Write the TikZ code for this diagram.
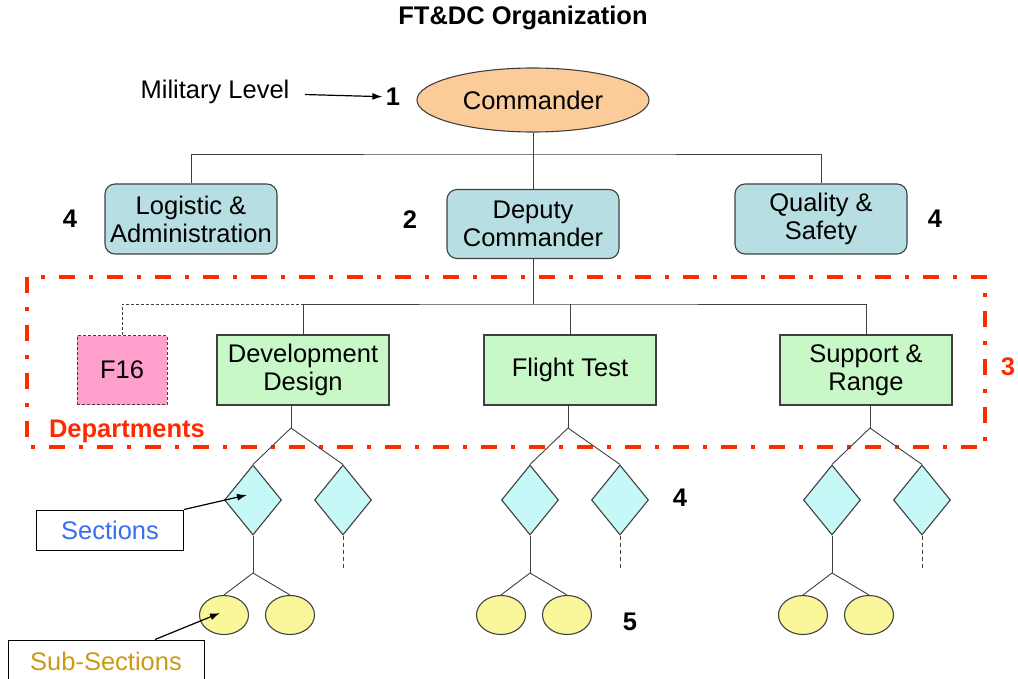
\documentclass[tikz,border=0pt]{standalone}
\usepackage{fontspec}
\setmainfont{Liberation Sans}
\usetikzlibrary{arrows.meta,positioning,shapes.geometric}

\definecolor{cmdorange}{HTML}{FBCB99}
\definecolor{staffblue}{HTML}{B7DEE2}
\definecolor{deptgreen}{HTML}{C8F8C8}
\definecolor{f16pink}{HTML}{FFA0CC}
\definecolor{secfill}{HTML}{C6F8F8}
\definecolor{subfill}{HTML}{FAF79B}
\definecolor{deptred}{HTML}{FF2A00}
\definecolor{secblue}{HTML}{3A6EF0}
\definecolor{subgold}{HTML}{CC9A14}
\definecolor{edgegray}{HTML}{404040}

\tikzset{
  link/.style={draw=edgegray, line width=0.9pt},
  staffbox/.style={draw=edgegray, line width=1.1pt, fill=staffblue, rounded corners=10pt, minimum width=172pt, minimum height=70pt, align=center},
  deptbox/.style={draw=edgegray, line width=1.1pt, fill=deptgreen, minimum width=172pt, minimum height=70pt, align=center},
  secdiamond/.style={draw=edgegray, line width=1.1pt, fill=secfill, diamond, minimum width=57pt, minimum height=70pt, inner sep=0pt},
  subellipse/.style={draw=edgegray, line width=1.1pt, fill=subfill, ellipse, minimum width=49pt, minimum height=39pt, inner sep=0pt},
  callout/.style={draw=black, line width=1pt, fill=white},
  pointer/.style={draw=black, line width=1.2pt, -{Latex[length=10pt,width=7pt]}},
  levelnum/.style={font=\fontsize{25.5}{28}\selectfont\bfseries},
  deptframe/.style={draw=deptred, line width=4.5pt, dash pattern=on 16pt off 14pt on 4pt off 14pt}
}

\begin{document}
\begin{tikzpicture}[x=1pt,y=-1pt,font=\fontsize{25.5}{28}\selectfont]
\useasboundingbox (0,0) rectangle (1018,679);
\node (title) at (523,18) [levelnum] {FT\&DC Organization};
\node (cmd) at (533,100) [draw=edgegray, line width=1.1pt, fill=cmdorange, ellipse, minimum width=232pt, minimum height=64pt, inner sep=0pt] {Commander};
\node (lvl1) [levelnum, left of=cmd, node distance=140pt, yshift=3pt] {1};
\node (mil) [left of=lvl1, node distance=178pt, yshift=5pt] {Military Level};
\draw [pointer, shorten <=12pt] (mil) -- (lvl1);

\node (logi) at (191,219) [staffbox] {Logistic \&\\Administration};
\node (depu) at (533,224) [staffbox, minimum height=69pt] {Deputy\\Commander};
\node (qual) at (821,219) [staffbox] {Quality \&\\Safety};
\node (lvl4a) [levelnum, left of=logi, node distance=121pt] {4};
\node (lvl2) [levelnum, left of=depu, node distance=123pt, yshift=4pt] {2};
\node (lvl4b) [levelnum, right of=qual, node distance=114pt] {4};

\coordinate (cmdfork) at (533,154);
\draw [link] (cmd) -- (cmdfork);
\draw [link] (logi.north) |- (cmdfork) -| (qual.north);
\draw [link] (cmdfork) -- (depu.north);

% departments frame
\draw [deptframe] (27,277) rectangle (985,447);
\node (deps) at (127,431) [levelnum, text=deptred] {Departments};
\node (lvl3) at (1008,367) [levelnum, text=deptred] {3};

\node (f16) at (122,370) [deptbox, fill=f16pink, line width=0.8pt, dash pattern=on 3pt off 2pt, minimum width=90pt, minimum height=69pt] {F16};
\node (dev) at (303,370) [deptbox] {Development\\Design};
\node (flt) at (570,370) [deptbox] {Flight Test};
\node (sup) at (866,370) [deptbox] {Support \&\\Range};

\coordinate (depfork) at (533,304);
\draw [link] (depu) -- (depfork);
\draw [link] (dev.north) |- (depfork) -| (sup.north);
\draw [link] (depfork -| flt.north) -- (flt.north);
\draw [link, dash pattern=on 3pt off 2pt] (f16.north) |- (depfork -| dev.north);

% sections and sub-sections
\foreach \d/\j in {dev/291,flt/568,sup/870}{
  \coordinate (\d-fork) at (\j,428);
  \node (\d-secl) at (\j-38,500) [secdiamond] {};
  \node (\d-secr) at (\j+52,500) [secdiamond] {};
  \coordinate (\d-subfork) at (\j-38,573);
  \node (\d-subl) at (\j-67,615) [subellipse] {};
  \node (\d-subr) at (\j-1,615) [subellipse] {};
  \draw [link] (\d.south -| \d-fork) -- (\d-fork);
  \draw [link] (\d-secl.north) -- (\d-fork) -- (\d-secr.north);
  \draw [link] (\d-secl.south) -- (\d-subfork);
  \draw [link] (\d-subl.north) -- (\d-subfork) -- (\d-subr.north);
  \draw [link, dash pattern=on 4pt off 3pt] (\d-secr.south) -- ++(0,32);
}
\node (lvl4c) at (680,498) [levelnum] {4};
\node (lvl5) at (630,622) [levelnum] {5};

\node (sec) at (110,530) [callout, minimum width=147pt, minimum height=40pt, text=secblue] {Sections};
\draw [pointer] (sec.north east) -- ([xshift=-6pt,yshift=5pt]dev-secl.center);
\node (subsec) at (106,661) [callout, minimum width=196pt, minimum height=42pt, text=subgold] {Sub-Sections};
\draw [pointer] ([xshift=49pt]subsec.north) -- ([xshift=-4pt,yshift=2pt]dev-subl.center);
\end{tikzpicture}
\end{document}
